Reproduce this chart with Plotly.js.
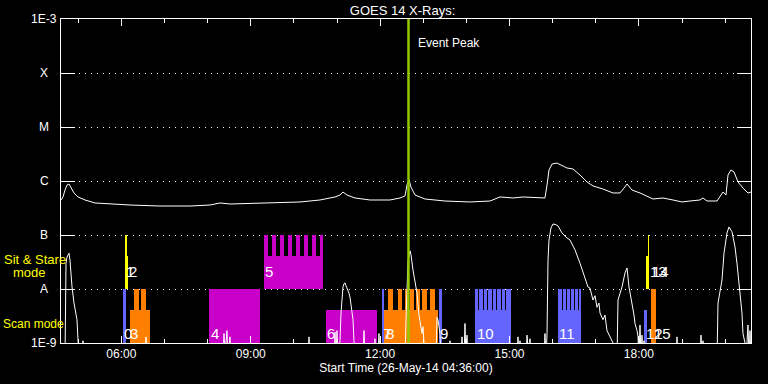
<!DOCTYPE html>
<html><head><meta charset="utf-8">
<script src="https://cdn.plot.ly/plotly-3.0.1.min.js"></script>
<style>html,body{margin:0;padding:0;background:#000;}#chart{width:768px;height:384px;}</style>
</head><body><div id="chart"></div>
<script>
// ---- time axis (decimal hours on 26-May-2014) ----
const startHour = 4.6, endHour = 20.6;
const eventPeakHour = 12.658;

// ---- GOES long channel (1-8 A) ----
const longTime = [4.600,4.646,4.693,4.739,4.786,4.832,4.901,4.994,5.157,5.388,5.736,6.200,6.896,7.591,8.055,8.287,8.519,9.214,9.678,10.142,10.606,10.954,11.070,11.139,11.232,11.417,11.765,12.229,12.461,12.577,12.623,12.670,12.716,12.809,13.041,13.504,14.084,14.548,14.780,15.081,15.313,15.823,15.870,15.916,15.986,16.101,16.333,16.472,16.635,16.797,16.936,17.168,17.400,17.562,17.655,17.725,17.841,18.026,18.327,18.559,18.791,19.000,19.186,19.417,19.487,19.580,19.812,19.881,19.951,20.020,20.067,20.136,20.206,20.299,20.414,20.530,20.600];
const longFlux = [4.45e-7,5.06e-7,6.8e-7,8.4e-7,8.8e-7,7.4e-7,6.0e-7,5.06e-7,4.45e-7,3.92e-7,3.75e-7,3.59e-7,3.44e-7,3.44e-7,3.59e-7,3.92e-7,3.75e-7,3.92e-7,4.09e-7,4.09e-7,4.45e-7,5.06e-7,5.5e-7,6.25e-7,5.5e-7,4.85e-7,4.45e-7,4.45e-7,4.85e-7,5.3e-7,8.4e-7,1.05e-6,7.7e-7,5.5e-7,4.64e-7,4.26e-7,4.09e-7,4.26e-7,5.06e-7,4.85e-7,5.06e-7,4.85e-7,8.4e-7,1.6e-6,2.06e-6,2.15e-6,1.74e-6,1.67e-6,1.29e-6,9.6e-7,8.1e-7,7.1e-7,6.0e-7,6.0e-7,7.4e-7,8.8e-7,6.8e-7,6.0e-7,4.64e-7,4.85e-7,4.45e-7,4.09e-7,4.26e-7,4.45e-7,4.85e-7,4.26e-7,4.26e-7,5.06e-7,6.25e-7,5.5e-7,1.29e-6,1.6e-6,1.47e-6,9.6e-7,7.4e-7,6.0e-7,6.25e-7];

// ---- GOES short channel (0.5-4 A); 5e-10 = below plotted range ----
const shortTime = [
 4.600,4.693,4.716,4.739,4.786,4.809,4.855,4.901,4.971,4.994,5.017,
 5.087,5.110,5.133,
 6.548,6.571,6.594,
 8.357,8.380,8.403,8.449,8.472,8.519,8.542,
 10.327,10.351,10.374,
 10.931,10.954,10.977,11.000,11.023,11.070,11.093,11.116,11.139,11.162,11.186,11.209,11.232,11.278,11.301,11.325,11.348,11.371,11.394,11.417,
 11.603,11.626,11.649,
 11.858,11.881,11.904,11.951,11.974,11.997,
 12.577,12.600,12.623,12.646,12.693,12.716,12.762,12.809,12.855,12.901,12.948,12.971,12.994,13.017,13.041,
 13.296,13.319,13.342,13.388,13.412,
 13.597,13.620,13.643,
 13.875,13.899,13.922,13.945,13.968,13.991,14.014,14.037,
 15.174,15.197,15.220,15.243,15.267,
 15.383,15.406,15.429,15.452,15.475,15.499,
 15.800,15.823,15.846,15.870,15.893,15.916,15.962,16.009,16.078,16.125,16.217,16.333,16.403,16.519,16.635,16.751,16.820,16.867,16.936,16.983,17.029,17.075,17.099,17.168,17.214,17.261,17.330,17.400,17.423,
 17.493,17.516,17.562,17.609,17.678,17.725,17.771,17.841,17.887,17.910,17.957,17.980,18.003,18.026,18.049,18.072,18.096,18.119,18.142,
 18.861,18.884,18.907,
 19.417,19.441,19.464,19.487,19.510,
 19.812,19.835,19.928,19.974,20.043,20.090,20.159,20.229,20.275,20.322,20.391,20.414,20.461,20.484,20.530,20.554,20.577,20.600];
const shortFlux = [
 5e-10,5e-10,3.0e-8,3.9e-8,4.6e-8,3.4e-8,1.1e-8,5.5e-9,2.7e-9,1.0e-9,5e-10,
 5e-10,1.1e-9,5e-10,
 5e-10,1.3e-9,5e-10,
 5e-10,1.5e-9,6e-10,1.7e-9,5e-10,1.3e-9,5e-10,
 5e-10,1.3e-9,5e-10,
 5e-10,1.6e-9,5e-10,1.7e-9,5e-10,1.1e-9,3.6e-9,8.4e-9,1.1e-8,1.25e-8,1.3e-8,1.15e-8,1.05e-8,8.4e-9,7.1e-9,4.6e-9,3.6e-9,2.7e-9,1.1e-9,5e-10,
 5e-10,1.7e-9,5e-10,
 5e-10,1.2e-9,5e-10,5e-10,1.5e-9,5e-10,
 5e-10,2.7e-9,1.5e-8,3.2e-8,5.1e-8,4.3e-8,2.25e-8,1.3e-8,8.4e-9,3.3e-9,2.1e-9,1.5e-9,2.0e-9,1.0e-9,5e-10,
 5e-10,3.0e-9,2.7e-9,1.5e-9,5e-10,
 5e-10,1.1e-9,5e-10,
 5e-10,1.3e-9,5e-10,5e-10,2.3e-9,5e-10,1.4e-9,5e-10,
 5e-10,1.3e-9,5e-10,1.1e-9,5e-10,
 5e-10,1.4e-9,5e-10,5e-10,1.2e-9,5e-10,
 5e-10,1.5e-9,5e-10,1.5e-9,3.4e-8,8.1e-8,1.35e-7,1.6e-7,1.55e-7,1.47e-7,1.09e-7,8.8e-8,8.1e-8,5.3e-8,3.0e-8,1.67e-8,1.09e-8,1.04e-8,6.25e-9,7.5e-9,4.6e-9,5.5e-9,3.6e-9,2.7e-9,3.3e-9,1.7e-9,1.3e-9,1.0e-9,5e-10,
 5e-10,6.25e-9,8.4e-9,1.09e-8,1.98e-8,2.45e-8,1.09e-8,5.5e-9,3.3e-9,2.3e-9,1.7e-9,1.3e-9,5e-10,2.15e-9,6e-10,1.4e-9,5e-10,1.1e-9,5e-10,
 5e-10,1.3e-9,5e-10,
 5e-10,1.4e-9,5e-10,1.1e-9,5e-10,
 5e-10,5.5e-9,1.47e-8,4.6e-8,1.09e-7,1.41e-7,1.15e-7,6.0e-8,3.0e-8,1.09e-8,3.6e-9,1.5e-9,1.0e-9,5e-10,2.15e-9,5e-10,1.7e-9,5e-10];

// ---- observation segments: row 0 = scan mode, row 1 = sit & stare; top = fraction of row ----
const segStart = [6.038,6.084,6.130,6.200,6.293,6.455,8.032,
 9.307,9.307,9.493,9.678,9.864,10.049,10.235,10.420,10.606,
 10.745,12.044,
 12.090,12.183,12.414,12.577,12.693,12.832,12.971,13.157,
 13.365,
 14.200,14.200,14.293,14.409,14.501,14.617,14.710,14.826,14.919,
 16.125,16.125,16.241,16.333,16.426,16.519,16.612,
 18.119,18.165,18.212,18.281];
const segEnd = [6.107,6.130,6.154,6.664,6.409,6.571,9.214,
 10.675,9.400,9.586,9.771,9.957,10.142,10.327,10.513,10.675,
 11.928,12.090,
 13.342,12.299,12.507,12.646,12.786,12.925,13.087,13.272,
 13.435,
 15.035,14.270,14.386,14.478,14.594,14.687,14.803,14.896,15.035,
 16.658,16.217,16.310,16.403,16.496,16.588,16.658,
 18.188,18.212,18.235,18.397];
const segRow = [0,1,1,0,0,0,0,
 1,1,1,1,1,1,1,1,1,
 0,0,
 0,0,0,0,0,0,0,0,
 0,
 0,0,0,0,0,0,0,0,0,
 0,0,0,0,0,0,0,
 0,1,1,0];
const segTop = [1,1,0.611,0.611,1,1,1,
 0.611,1,1,1,1,1,1,1,1,
 0.611,1,
 0.611,1,1,1,1,1,1,1,
 1,
 0.611,1,1,1,1,1,1,1,1,
 0.611,1,1,1,1,1,1,
 0.611,0.611,1,1];
const segKind = ['blue','yellow','yellow','orange','orange','orange','magenta',
 'magenta','magenta','magenta','magenta','magenta','magenta','magenta','magenta','magenta',
 'magenta','blue',
 'orange','orange','orange','orange','orange','orange','orange','orange',
 'blue',
 'blue','blue','blue','blue','blue','blue','blue','blue','blue',
 'blue','blue','blue','blue','blue','blue','blue',
 'blue','yellow','yellow','orange'];

// ---- observation numbers ----
const labelText = ['0','1','2','3','4','5','6','7','8','9','10','11','12','13','14','15'];
const labelHour = [6.061,6.107,6.177,6.200,8.078,9.330,10.768,12.067,12.136,13.388,14.246,16.148,18.165,18.258,18.304,18.350];
const labelRow  = [0,1,1,0,0,1,0,0,0,0,0,0,0,1,1,0];

// ---- flux levels ----
const levelFlux = [1e-9,1e-8,1e-7,1e-6,1e-5,1e-4,1e-3];
const levelText = ['1E-9','A','B','C','M','X','1E-3'];

const COLORS = {blue:'#6464ff', orange:'#ff8000', magenta:'#c800c8', yellow:'#ffff00'};
const FONT = 'Liberation Sans, Arial, sans-serif';

function toDate(h){
  const ms = Date.UTC(2014,4,26,0,0,0) + Math.round(h*3600000);
  return new Date(ms).toISOString().slice(0,19).replace('T',' ');
}

const traces = [
  {type:'bar', x:segStart.map(toDate), y:segTop, base:segRow.map(r=>-9+r),
   width:segStart.map((s,i)=>(segEnd[i]-s)*3600000), offset:0,
   marker:{color:segKind.map(k=>COLORS[k]), line:{width:0}},
   xaxis:'x', yaxis:'y', hoverinfo:'skip', showlegend:false},
  {type:'scatter', mode:'lines', x:longTime.map(toDate), y:longFlux, xaxis:'x', yaxis:'y2',
   line:{color:'#ffffff', width:1}, hoverinfo:'skip', showlegend:false},
  {type:'scatter', mode:'lines', x:shortTime.map(toDate), y:shortFlux, xaxis:'x', yaxis:'y2',
   line:{color:'#ffffff', width:1}, hoverinfo:'skip', showlegend:false}
];

const annotations = [];
levelFlux.forEach((f,i)=>annotations.push({xref:'paper', yref:'y', x:-0.0246, y:Math.log10(f),
  text:levelText[i], showarrow:false, xanchor:'center', yanchor:'middle', font:{family:FONT,size:12,color:'#ffffff'}}));
labelText.forEach((t,i)=>annotations.push({xref:'x', yref:'y', x:toDate(labelHour[i]),
  y: labelRow[i]===0 ? -8.815 : -7.685, text:t, showarrow:false, xanchor:'left', yanchor:'middle',
  xshift:-2, font:{family:FONT,size:15,color:'#ffffff'}}));
annotations.push({xref:'paper', yref:'paper', x:(2-61)/690, y:(343-259)/324, text:'Sit &amp; Stare', showarrow:false,
  xanchor:'left', yanchor:'middle', font:{family:FONT,size:13,color:'#ffff00'}});
annotations.push({xref:'paper', yref:'paper', x:(11-61)/690, y:(343-272)/324, text:'mode', showarrow:false,
  xanchor:'left', yanchor:'middle', font:{family:FONT,size:13,color:'#ffff00'}});
annotations.push({xref:'paper', yref:'paper', x:(1-61)/690, y:(343-324)/324, text:'Scan mode', showarrow:false,
  xanchor:'left', yanchor:'middle', font:{family:FONT,size:12,color:'#ffff00'}});
annotations.push({xref:'x', yref:'paper', x:toDate(eventPeakHour), xshift:8, y:(343-43)/324, text:'Event Peak',
  showarrow:false, xanchor:'left', yanchor:'middle', font:{family:FONT,size:12,color:'#ffffff'}});

const layout = {
  width:768, height:384,
  paper_bgcolor:'#000000', plot_bgcolor:'#000000',
  margin:{l:61, r:17, t:19, b:41, pad:0},
  barmode:'overlay', bargap:0,
  showlegend:false,
  title:{text:'GOES 14 X-Rays:', font:{family:FONT,size:13,color:'#ffffff'},
         xref:'paper', x:0.495, xanchor:'center', yref:'container', y:1-10/384, yanchor:'middle'},
  xaxis:{type:'date', range:[toDate(startHour), toDate(endHour)],
    showline:true, linecolor:'#ffffff', linewidth:1, mirror:'ticks',
    ticks:'inside', ticklen:7, tickwidth:1, tickcolor:'#ffffff',
    tick0:toDate(6), dtick:10800000, tickformat:'%H:%M',
    tickfont:{family:FONT,size:12,color:'#ffffff'},
    minor:{ticks:'inside', ticklen:4, tickcolor:'#ffffff', tickwidth:1, dtick:3600000, tick0:toDate(5), showgrid:false},
    showgrid:false, zeroline:false, fixedrange:true,
    title:{text:'Start Time (26-May-14 04:36:00)', font:{family:FONT,size:12,color:'#ffffff'}, standoff:2}},
  yaxis:{type:'linear', range:[-9,-3], tickvals:levelFlux.map(Math.log10), showticklabels:false,
    ticks:'inside', ticklen:14, tickwidth:1, tickcolor:'#ffffff',
    showline:true, linecolor:'#ffffff', linewidth:1, mirror:'ticks',
    showgrid:true, gridcolor:'#ffffff', gridwidth:1, griddash:'1px,5px', zeroline:false, fixedrange:true},
  yaxis2:{type:'log', range:[-9,-3], overlaying:'y', side:'left', showgrid:false, showticklabels:false,
    ticks:'', showline:false, zeroline:false, fixedrange:true},
  shapes:[{type:'line', xref:'x', yref:'paper', x0:toDate(eventPeakHour), x1:toDate(eventPeakHour), y0:0, y1:1,
    line:{color:'#96c800', width:2.5}, layer:'above'}],
  annotations:annotations
};

Plotly.newPlot('chart', traces, layout, {staticPlot:true, displayModeBar:false});
</script>
</body></html>
